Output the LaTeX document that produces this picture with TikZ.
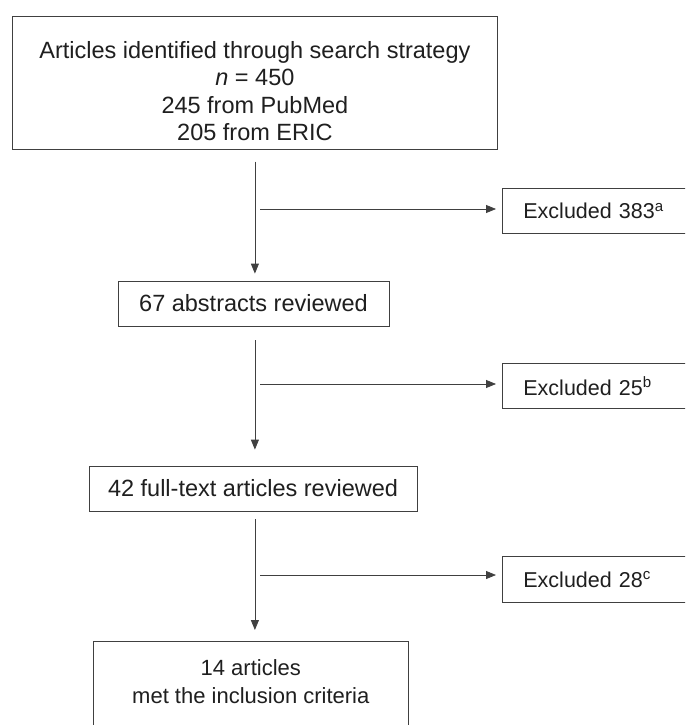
\documentclass[tikz,border=0pt]{standalone}
\usepackage{fontspec}
\setmainfont{Liberation Sans}
\usetikzlibrary{arrows.meta}
\definecolor{lc}{gray}{0.25}
\definecolor{tc}{gray}{0.12}
\tikzset{
  box/.style={draw=lc, line width=0.8pt, rectangle, inner sep=0pt, text=tc, align=center},
  exbox/.style={draw=lc, line width=0.8pt, rectangle, inner ysep=0pt, inner xsep=21pt,
    text width=230pt, align=left, minimum height=45pt, anchor=north west, text=tc,
    font=\fontsize{21.5}{26}\selectfont},
  arr/.style={draw=lc, line width=0.8pt, -{Triangle[length=10pt,width=8pt]}},
  bigfont/.style={font=\fontsize{23.5}{27.2}\selectfont}
}
\begin{document}
\begin{tikzpicture}[x=1pt,y=1pt]
\useasboundingbox (0,0) rectangle (685,-725);
\clip (0,0) rectangle (685,-725);
\fill[white] (0,0) rectangle (685,-725);

\node[box, bigfont, anchor=north, minimum width=484.8pt] (top) at (254.9,-16)
  {\rule{0pt}{42.3pt}Articles identified through search strategy\\
   \textit{n} = 450\\
   245 from PubMed\\
   205 from ERIC\rule[-9pt]{0pt}{9pt}};

\node[box, bigfont, minimum width=271pt, minimum height=45pt] (abs) at (253.5,-303.5)
  {67 abstracts reviewed};

\node[box, bigfont, minimum width=328pt, minimum height=45pt] (full) at (253,-488.5)
  {42 full-text articles reviewed};

\node[box, font=\fontsize{22}{28}\selectfont, anchor=north, minimum width=315pt] (final) at (250.8,-641)
  {\rule{0pt}{34pt}14 articles\\
   met the inclusion criteria\rule[-40pt]{0pt}{40pt}};

\node[exbox] (ex1) at (502,-188) {Excluded 383\textsuperscript{a}};
\node[exbox] (ex2) at (502,-363) {Excluded 25\textsuperscript{b}};
\node[exbox, minimum height=46pt] (ex3) at (502,-556) {Excluded 28\textsuperscript{c}};

\coordinate (h1) at (260,-209);
\coordinate (h2) at (260,-384);
\coordinate (h3) at (260,-575);

\draw[arr, shorten <=12pt, shorten >=7pt] (top.south) -- (top.south |- abs.north);
\draw[arr, shorten <=14pt, shorten >=16pt] (top.south |- abs.south) -- (top.south |- full.north);
\draw[arr, shorten <=8pt, shorten >=11pt] (top.south |- full.south) -- (top.south |- final.north);

\draw[arr, shorten >=6pt] (h1) -- (h1 -| ex1.west);
\draw[arr, shorten >=6pt] (h2) -- (h2 -| ex2.west);
\draw[arr, shorten >=6pt] (h3) -- (h3 -| ex3.west);
\end{tikzpicture}
\end{document}
